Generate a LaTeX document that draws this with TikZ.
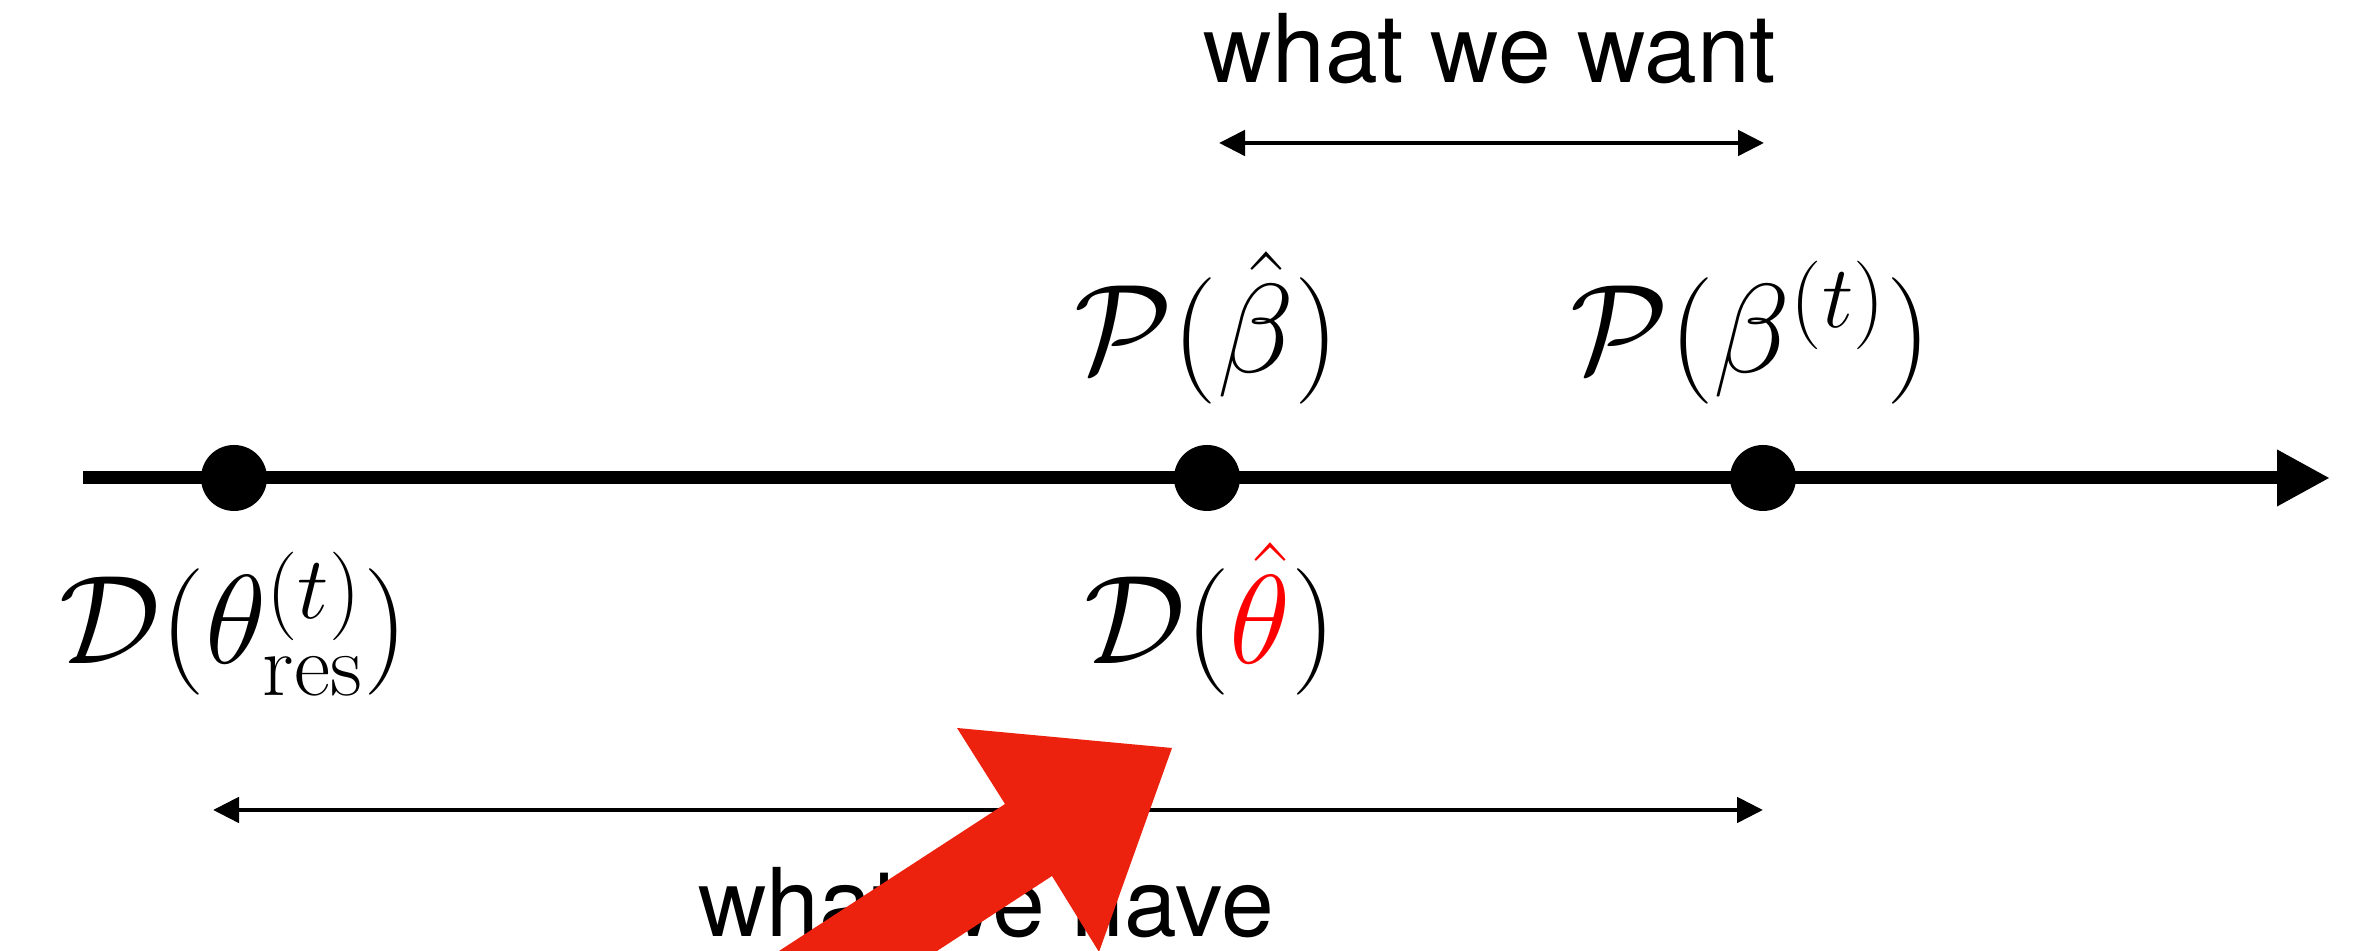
\RequirePackage{fix-cm}
\documentclass[tikz,border=0pt]{standalone}
\usepackage[no-math]{fontspec}
\usepackage{amsmath}
\usepackage{xcolor}
\usepackage{tikz}
\usetikzlibrary{arrows.meta}
\newfontfamily\labelfont{TeX Gyre Heros}
\definecolor{hatcolor}{RGB}{255,0,0}
\definecolor{markcolor}{RGB}{237,34,14}

\begin{document}
\begin{tikzpicture}[
    every node/.style={font=\fontsize{36}{43}\selectfont, inner sep=0pt},
    axisdot/.style={circle, fill=black, minimum size=0.66cm, inner sep=0pt},
    rangearrow/.style={{Triangle[length=2.6mm, width=2.5mm]}-{Triangle[length=2.6mm, width=2.5mm]}, line width=1.4pt},
    words/.style={font=\labelfont\fontsize{27}{32}\selectfont},
]
    \useasboundingbox (0,0) rectangle (23.61,9.51);

    % Axis
    \coordinate (axstart) at (0.83,4.73);
    \coordinate (axend) at (23.30,4.73);
    \draw[line width=3.7pt, -{Triangle[length=5.3mm, width=5.3mm]}] (axstart) -- (axend);

    % Points on the axis
    \node[axisdot] (pres) at (2.34,4.73) {};
    \node[axisdot] (phatdot) at (12.07,4.73) {};
    \node[axisdot] (ptdot) at (17.63,4.73) {};

    % Labels above and below
    \node[anchor=base] (phat) at (12.07,5.78) {$\mathcal{P}(\hat{\beta})$};
    \node[anchor=base] (pbt) at (17.51,5.78) {$\mathcal{P}(\beta^{(t)})$};
    \node[anchor=base] (dres) at (2.34,2.87) {$\mathcal{D}(\theta^{(t)}_{\mathrm{res}})$};
    \node[anchor=base] (dhat) at (12.10,2.87) {$\mathcal{D}({\color{hatcolor}\hat{\theta}})$};

    % What we want
    \coordinate (wantl) at (12.19,8.08);
    \coordinate (wantr) at (17.64,8.08);
    \draw[rangearrow] (wantl) -- (wantr);
    \node[words, anchor=base] (want) at (14.90,8.68) {what we want};

    % What we have
    \coordinate (havel) at (2.13,1.41);
    \coordinate (haver) at (17.63,1.41);
    \draw[rangearrow] (havel) -- (haver);
    \node[words, anchor=base] (have) at (9.86,0.14) {what we have};

    % Red marker arrow
    \fill[markcolor] (11.72,2.03) -- (9.57,2.23) -- (10.05,1.47) -- (7.79,0) -- (9.37,0)
        -- (10.52,0.75) -- (10.99,-0.01) -- cycle;
\end{tikzpicture}
\end{document}
